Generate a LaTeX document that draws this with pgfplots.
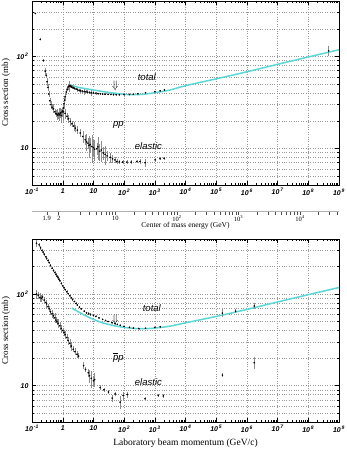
\documentclass[border=0pt]{standalone}
\usepackage{pgfplots}
\pgfplotsset{compat=1.18}
\usepackage{fontspec}
\setmainfont{Liberation Serif}
\setsansfont{Liberation Sans}

\definecolor{fitcyan}{RGB}{90,215,215}
\newcommand{\tk}[1]{10\textsuperscript{\,#1}}
\newcommand{\pbar}{\ensuremath{\overline{\mbox{\itshape p}}}}

\pgfplotsset{
  datpts/.style={only marks, mark=*, mark size=0.6pt, black,
    error bars/y dir=both, error bars/y explicit,
    error bars/error bar style={black!45, line width=0.35pt},
    error bars/error mark=none},
  fitline/.style={no marks, smooth, fitcyan, line width=1.5pt},
}
\tikzset{lbl/.style={font=\sffamily\itshape\fontsize{9.5}{10}\selectfont}}

\begin{document}
\begin{tikzpicture}
\path[use as bounding box] (0,0) rectangle (346pt,-449pt);

% ---- pp (top) ----
\begin{axis}[
  scale only axis, width=307pt, height=184pt,
  at={(32pt,-185pt)}, anchor=south west,
  xmode=log, ymode=log,
  xmin=0.1, xmax=1e9, ymin=4, ymax=400,
  xtick={0.1,1,10,100,1000,1e4,1e5,1e6,1e7,1e8,1e9},
  xticklabels={\tk{-1},1,10,\tk{2},\tk{3},\tk{4},\tk{5},\tk{6},\tk{7},\tk{8},\tk{9}},
  minor xtick={0.2,0.3,0.4,0.5,0.6,0.7,0.8,0.9,2,3,4,5,6,7,8,9,
    20,30,40,50,60,70,80,90,200,300,400,500,600,700,800,900,
    2000,3000,4000,5000,6000,7000,8000,9000,
    2e4,3e4,4e4,5e4,6e4,7e4,8e4,9e4,2e5,3e5,4e5,5e5,6e5,7e5,8e5,9e5,
    2e6,3e6,4e6,5e6,6e6,7e6,8e6,9e6,2e7,3e7,4e7,5e7,6e7,7e7,8e7,9e7,
    2e8,3e8,4e8,5e8,6e8,7e8,8e8,9e8},
  ytick={10,100}, yticklabels={10,\tk{2}},
  minor ytick={5,6,7,8,9,20,30,40,50,60,70,80,90,200,300},
  tick label style={font=\sffamily\bfseries\itshape\fontsize{7}{8}\selectfont},
  xmajorgrids, ymajorgrids, yminorgrids,
  major grid style={dotted, black!40, line width=0.35pt},
  minor grid style={dotted, black!40, line width=0.35pt},
  major tick length=4pt, minor tick length=2.2pt,
  tick style={black, line width=0.3pt},
  ylabel={Cross section (mb)},
  ylabel style={at={(axis description cs:-0.085,0.5)}, anchor=center,
    font=\fontsize{9}{10}\selectfont},
]
\addplot[fitline] coordinates {
  (1.8,49) (2.5,47.2) (3,46.3) (5,44.8) (10,43.2) (20,41.5) (50,39.8)
  (100,38.7) (200,38.3) (400,38.7) (1000,40.3) (3000,43) (1e4,48)
  (1e5,57) (1e6,68) (1e7,82) (1e8,98.5) (1e9,118)
};
% total
\addplot[datpts] coordinates {
  (0.128,293)+-(0,6) (0.186,153)+-(0,4) (0.234,90)+-(0,3) (0.27,69)+-(0,6)
  (0.29,62)+-(0,4) (0.31,53)+-(0,5) (0.33,46)+-(0,4) (0.35,39)+-(0,3)
  (0.38,33)+-(0,2) (0.41,30)+-(0,3) (0.45,28)+-(0,2) (0.5,27)+-(0,3)
  (0.55,25)+-(0,2) (0.6,24)+-(0,2) (0.65,23.5)+-(0,3) (0.7,23)+-(0,2)
  (0.75,23.8)+-(0,4) (0.8,23.2)+-(0,2) (0.85,24.3)+-(0,3) (0.9,22.8)+-(0,4)
  (0.95,24.8)+-(0,3) (1.0,25.5)+-(0,5) (1.05,27.5)+-(0,3) (1.1,30.5)+-(0,4)
  (1.15,33.5)+-(0,3) (1.2,36.5)+-(0,4) (1.3,41)+-(0,3) (1.4,44)+-(0,2)
  (1.5,46.5)+-(0,3) (1.6,47.5)+-(0,6) (1.7,47.8)+-(0,2) (1.8,47.5)+-(0,2)
  (1.9,47)+-(0,1.5) (2.0,46.3)+-(0,2) (2.2,45.6)+-(0,1.5) (2.4,45)+-(0,2)
  (2.7,44.2)+-(0,1.5) (3.0,43.5)+-(0,2) (3.4,42.9)+-(0,1.5) (3.8,42.4)+-(0,2)
  (4.3,42)+-(0,1.5) (5,41.5)+-(0,3) (5.7,41.1)+-(0,1.5) (6.5,40.8)+-(0,2)
  (7.5,40.5)+-(0,1.5) (8.5,40.3)+-(0,3) (10,40.1)+-(0,1) (12,39.8)+-(0,1.5)
  (14,39.5)+-(0,1) (17,39.2)+-(0,1) (20,39)+-(0,0.8) (24,38.8)+-(0,1)
  (30,38.7)+-(0,0.8) (37,38.6)+-(0,0.8) (45,38.5)+-(0,0.8) (55,38.4)+-(0,0.6)
  (70,38.3)+-(0,0.6) (100,38.5)+-(0,0.6) (150,38.6)+-(0,0.5) (200,38.8)+-(0,0.5)
  (280,39.3)+-(0,0.5) (500,40.2)+-(0,0.5) (1000,41.4)+-(0,0.6) (1480,42.2)+-(0,0.7)
  (2060,43.2)+-(0,0.8) (4.6e8,115)+-(0,15)
};
% elastic
\addplot[datpts] coordinates {
  (1.07,25)+-(0,2) (1.2,24)+-(0,3) (1.37,22.3)+-(0,2) (1.55,21)+-(0,2)
  (1.76,19.6)+-(0,2) (2.0,18.5)+-(0,1.5) (2.3,17.5)+-(0,2) (2.57,16.6)+-(0,1.5)
  (3.0,15.8)+-(0,1.5) (3.7,14.7)+-(0,1.5) (4.5,13.5)+-(0,2) (5.4,12.4)+-(0,1.5)
  (6.0,11.8)+-(0,2.5) (6.6,11.4)+-(0,1.5) (7.2,10.8)+-(0,3) (7.9,11.0)+-(0,2)
  (8.8,10.5)+-(0,3.5) (10,10.2)+-(0,2) (11,9.8)+-(0,2.5) (12.9,9.9)+-(0,1.5)
  (14,10.4)+-(0,3) (16,9.3)+-(0,2) (18,9.6)+-(0,2.5) (21,8.9)+-(0,1.5)
  (24,8.6)+-(0,2) (28,8.3)+-(0,1) (35,8.0)+-(0,1) (42,7.7)+-(0,0.8)
  (50,7.5)+-(0,0.6) (58,7.2)+-(0,0.5) (70,7.15)+-(0,0.4) (90,7.1)+-(0,0.4)
  (123,7.1)+-(0,0.3) (170,7.1)+-(0,0.3) (260,7.2)+-(0,0.3) (330,7.2)+-(0,0.4)
  (480,7.0)+-(0,0.7) (1020,7.5)+-(0,0.3) (1480,7.7)+-(0,0.3) (2000,7.8)+-(0,0.3)
};
\node[lbl] at (axis cs:550,59) {total};
\node[lbl] at (axis cs:65,18.2) {pp};
\node[lbl] at (axis cs:620,10.5) {elastic};
\node[font=\fontsize{11}{11}\selectfont] at (axis cs:51,48) {$\Downarrow$};
\end{axis}

% ---- centre of mass energy scale ----
\begin{axis}[
  scale only axis, width=307pt, height=2pt,
  at={(32pt,-211.5pt)}, anchor=south west,
  xmode=log, xmin=0.1, xmax=1e9, ymin=0, ymax=1,
  hide y axis, axis x line*=bottom,
  x axis line style={black!30, line width=1.2pt},
  xtick={0.3014,0.7373,52.343,5328,532896,5.329e7},
  xticklabels={1.9,2,10,10\textsuperscript{2},10\textsuperscript{3},10\textsuperscript{4}},
  minor xtick={3.742,7.530,12.349,18.222,25.156,33.154,42.216,
    212.2,478.7,851.7,1331.3,1917.5,2610.3,3409.6,4315.5,
    21316,47961,85263,133224,191843,261119,341053,431646,
    2.13158e6,4.79606e6,8.52634e6,1.33224e7,1.91843e7,2.61119e7,3.41053e7,4.31646e7,
    2.13158e8,4.79606e8,8.52634e8},
  tick align=outside, major tick length=3.5pt, minor tick length=3.5pt,
  tick style={black!70, line width=0.4pt},
  xticklabel style={font=\fontsize{6.5}{7}\selectfont, inner sep=0.5pt},
  xlabel={Center of mass energy (GeV)},
  xlabel style={font=\fontsize{7.5}{8}\selectfont, inner sep=0.5pt},
]
\end{axis}

% ---- pbar p (bottom) ----
\begin{axis}[
  scale only axis, width=307pt, height=183pt,
  at={(32pt,-422pt)}, anchor=south west,
  xmode=log, ymode=log,
  xmin=0.1, xmax=1e9, ymin=4, ymax=400,
  xtick={0.1,1,10,100,1000,1e4,1e5,1e6,1e7,1e8,1e9},
  xticklabels={\tk{-1},1,10,\tk{2},\tk{3},\tk{4},\tk{5},\tk{6},\tk{7},\tk{8},\tk{9}},
  minor xtick={0.2,0.3,0.4,0.5,0.6,0.7,0.8,0.9,2,3,4,5,6,7,8,9,
    20,30,40,50,60,70,80,90,200,300,400,500,600,700,800,900,
    2000,3000,4000,5000,6000,7000,8000,9000,
    2e4,3e4,4e4,5e4,6e4,7e4,8e4,9e4,2e5,3e5,4e5,5e5,6e5,7e5,8e5,9e5,
    2e6,3e6,4e6,5e6,6e6,7e6,8e6,9e6,2e7,3e7,4e7,5e7,6e7,7e7,8e7,9e7,
    2e8,3e8,4e8,5e8,6e8,7e8,8e8,9e8},
  ytick={10,100}, yticklabels={10,\tk{2}},
  minor ytick={5,6,7,8,9,20,30,40,50,60,70,80,90,200,300},
  tick label style={font=\sffamily\bfseries\itshape\fontsize{7}{8}\selectfont},
  xmajorgrids, ymajorgrids, yminorgrids,
  major grid style={dotted, black!40, line width=0.35pt},
  minor grid style={dotted, black!40, line width=0.35pt},
  major tick length=4pt, minor tick length=2.2pt,
  tick style={black, line width=0.3pt},
  ylabel={Cross section (mb)},
  ylabel style={at={(axis description cs:-0.085,0.5)}, anchor=center,
    font=\fontsize{9}{10}\selectfont},
  xlabel={Laboratory beam momentum (GeV/c)},
  xlabel style={font=\fontsize{9.5}{10}\selectfont},
]
\addplot[fitline] coordinates {
  (2,70) (3,65) (5,59) (10,53) (20,48.5) (50,45) (100,43.3) (200,42.2)
  (400,41.8) (1000,42.5) (3000,44.5) (1e4,48.5) (1e5,57) (1e6,68) (1e7,82)
  (1e8,98.5) (1e9,118)
};
% total
\addplot[datpts] coordinates {
  (0.14,360)+-(0,30) (0.17,345)+-(0,20) (0.19,320)+-(0,15) (0.21,300)+-(0,12)
  (0.23,287)+-(0,10) (0.25,272)+-(0,10) (0.28,256)+-(0,8) (0.3,246)+-(0,8)
  (0.33,233)+-(0,8) (0.36,221)+-(0,6) (0.4,206)+-(0,6) (0.45,192)+-(0,6)
  (0.5,181)+-(0,5) (0.55,172)+-(0,5) (0.6,164)+-(0,6) (0.65,157)+-(0,5)
  (0.7,151)+-(0,5) (0.75,145)+-(0,5) (0.8,140)+-(0,4) (0.9,131)+-(0,4)
  (1.0,123)+-(0,4) (1.1,117)+-(0,4) (1.2,112)+-(0,3) (1.35,106)+-(0,4)
  (1.5,101)+-(0,3) (1.7,96)+-(0,3) (1.9,91)+-(0,3) (2.1,87)+-(0,3)
  (2.4,83)+-(0,2) (2.7,79)+-(0,2) (3.0,76)+-(0,2) (3.5,72)+-(0,2)
  (4.0,69)+-(0,2) (5,65)+-(0,2) (6,62.5)+-(0,2) (7,61)+-(0,2)
  (8,59.8)+-(0,2) (10,58.5)+-(0,1.5) (12,57)+-(0,1.5) (15,55)+-(0,1.5)
  (20,53)+-(0,1) (25,51.5)+-(0,1) (30,50.2)+-(0,1) (40,48.7)+-(0,1)
  (50,47.6)+-(0,1) (60,46.7)+-(0,1) (75,45.6)+-(0,0.8) (100,44.5)+-(0,0.8)
  (150,43.3)+-(0,0.8) (200,42.5)+-(0,0.7) (300,42)+-(0,0.7) (500,42.3)+-(0,0.7)
  (1000,43.3)+-(0,0.8) (1500,44)+-(0,0.8)
  (1.59e5,62)+-(0,6) (4.3e5,65)+-(0,3) (1.73e6,74)+-(0,6)
};
% elastic
\addplot[datpts] coordinates {
  (0.14,100)+-(0,12) (0.16,97)+-(0,8) (0.18,92)+-(0,10) (0.2,90)+-(0,8)
  (0.22,93)+-(0,6) (0.25,86)+-(0,7) (0.28,81)+-(0,5) (0.3,78)+-(0,9)
  (0.33,73)+-(0,5) (0.36,69)+-(0,6) (0.4,64)+-(0,5) (0.45,61)+-(0,6)
  (0.5,58)+-(0,4) (0.55,55)+-(0,7) (0.6,52)+-(0,4) (0.65,50)+-(0,4)
  (0.7,48)+-(0,5) (0.8,45)+-(0,4) (0.9,42)+-(0,4) (1.0,40)+-(0,3)
  (1.1,38)+-(0,3) (1.2,36)+-(0,4) (1.35,33.5)+-(0,3) (1.5,31)+-(0,3)
  (1.7,29)+-(0,3) (1.9,27)+-(0,3) (2.2,25)+-(0,2) (2.5,23.5)+-(0,2)
  (2.9,22)+-(0,2) (3.3,21)+-(0,1.5) (4.8,16.5)+-(0,1.5) (5.5,15)+-(0,1)
  (6.8,13.8)+-(0,1.5) (7.5,12.8)+-(0,2) (8.5,12)+-(0,2.5) (10,11.3)+-(0,1.5)
  (11,11.6)+-(0,2) (16.6,9.5)+-(0,0.6) (22,9.0)+-(0,0.5) (31,8.5)+-(0,0.4)
  (41,7.3)+-(0,0.6) (51,8.1)+-(0,0.4) (74,6.6)+-(0,1.1) (93,7.8)+-(0,0.8)
  (126,8.0)+-(0,0.6) (480,7.2)+-(0,0.3) (1300,7.8)+-(0,0.3) (1900,7.7)+-(0,0.4)
  (1.59e5,13)+-(0,0.6) (1.73e6,17.8)+-(0,2.6)
};
\node[lbl] at (axis cs:800,71) {total};
\node[lbl] at (axis cs:65,20.3) {\pbar p};
\node[lbl] at (axis cs:620,10.9) {elastic};
\node[font=\fontsize{11}{11}\selectfont] at (axis cs:51,52) {$\Downarrow$};
\end{axis}
\end{tikzpicture}
\end{document}
